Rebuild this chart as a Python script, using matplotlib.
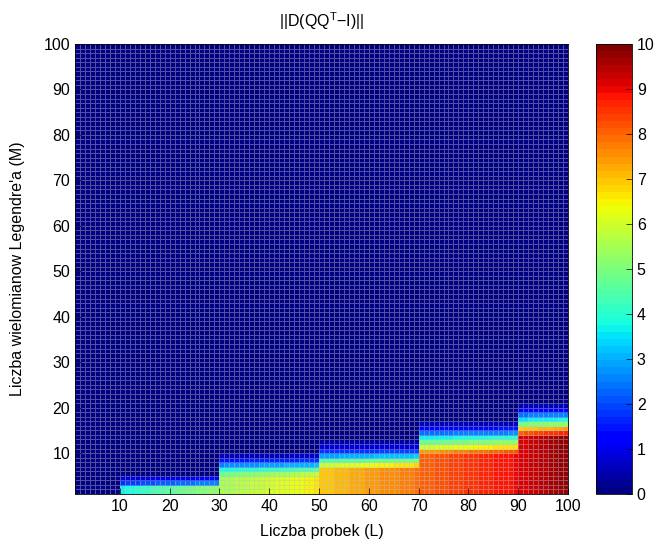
# ||D(QQ^T - I)|| over number of samples L and number of Legendre polynomials M

import numpy as np
import matplotlib
matplotlib.use('Agg')
import matplotlib.pyplot as plt

plt.rcParams['font.family'] = ['Liberation Sans', 'DejaVu Sans']
plt.rcParams['mathtext.fontset'] = 'custom'
plt.rcParams['mathtext.rm'] = 'Liberation Sans'
plt.rcParams['mathtext.it'] = 'Liberation Sans'

L = np.arange(1, 101)
M = np.arange(1, 101)

# value in the bottom row (M = 1) for every L
bottom_vals = [0, 0, 0, 0, 0, 0, 0, 0, 0,
               3.7, 3.8, 3.9, 4.0, 4.1, 4.2, 4.3, 4.4, 4.5, 4.55,
               4.6, 4.7, 4.8, 4.85, 4.9, 5.0, 5.05, 5.1, 5.2, 5.25,
               5.5, 5.55, 5.6, 5.65, 5.7, 5.75, 5.8, 5.85, 5.9, 6.0,
               6.05, 6.1, 6.15, 6.2, 6.3, 6.35, 6.4, 6.45, 6.5, 6.6,
               6.9, 6.95, 7.0, 7.05, 7.1, 7.15, 7.2, 7.25, 7.3, 7.35,
               7.4, 7.45, 7.5, 7.55, 7.6, 7.65, 7.7, 7.75, 7.8, 7.85,
               8.0, 8.05, 8.1, 8.15, 8.2, 8.25, 8.3, 8.35, 8.4, 8.45,
               8.5, 8.55, 8.6, 8.65, 8.7, 8.75, 8.8, 8.85, 8.9, 8.95,
               9.1, 9.2, 9.3, 9.35, 9.4, 9.5, 9.55, 9.6, 9.7, 9.8, 9.9]

# steps in L, rows at full value, and fall-off (fraction of bottom value) above them
seg_start = [10, 30, 50, 70, 90]
seg_end = [30, 50, 70, 90, 101]
full_rows = [2, 4, 6, 9, 13]
fade = [[0.5, 0.22],
        [0.88, 0.69, 0.48, 0.27, 0.1],
        [0.86, 0.64, 0.42, 0.25, 0.12, 0.05],
        [0.92, 0.75, 0.59, 0.45, 0.3, 0.16, 0.07],
        [0.89, 0.75, 0.54, 0.39, 0.27, 0.14, 0.06]]

C = np.zeros((len(M), len(L)))
for s, e, n, f in zip(seg_start, seg_end, full_rows, fade):
    prof = np.array([1.0] * n + f)
    for l in range(s, e):
        C[:len(prof), l - 1] = bottom_vals[l - 1] * prof

fig = plt.figure(figsize=(6.58, 5.52), dpi=100)
ax = fig.add_axes([75/658, 58/552, 493/658, 450/552])
cax = fig.add_axes([596/658, 58/552, 36/658, 450/552])

cmap = plt.get_cmap('jet', 64)
pc = ax.pcolormesh(L, M, C[:-1, :-1], cmap=cmap, vmin=0, vmax=10, shading='flat',
                   edgecolors=(0.75, 0.75, 0.85, 0.42), linewidth=0.45)
ax.set_xlim(1, 100)
ax.set_ylim(1, 100)
ax.set_xticks(np.arange(10, 101, 10))
ax.set_yticks(np.arange(10, 101, 10))
ax.tick_params(direction='in', labelsize=11.5, length=4, width=0.5)
for sp in ax.spines.values():
    sp.set_linewidth(0.6)

ax.set_title('||D(QQ$^{\\mathrm{T}}$\u2212I)||', fontsize=11.5, pad=12)
ax.set_xlabel('Liczba probek (L)', fontsize=11.5, labelpad=7)
ax.set_ylabel("Liczba wielomianow Legendre'a (M)", fontsize=11.5, labelpad=13)

cb = fig.colorbar(pc, cax=cax)
cb.set_ticks(np.arange(0, 11, 1))
cb.ax.tick_params(direction='in', labelsize=11.5, length=4, width=0.5)
cb.outline.set_linewidth(0.6)

fig.savefig('out.png', dpi=100)
